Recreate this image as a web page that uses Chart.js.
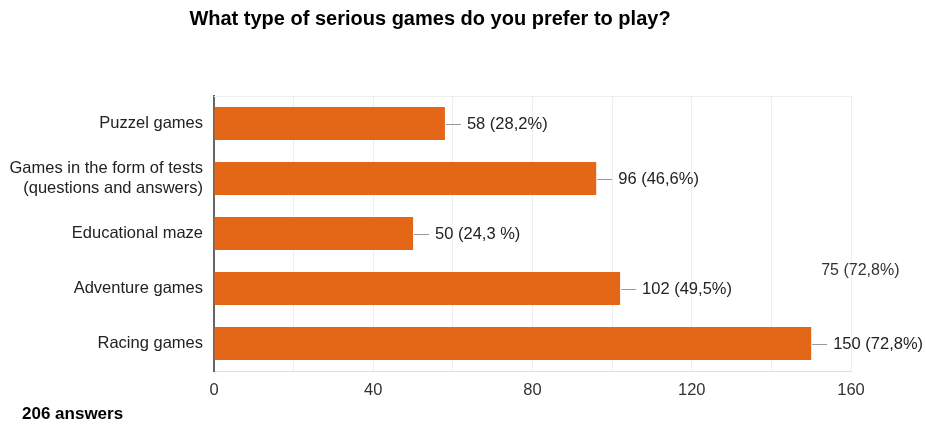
<!DOCTYPE html>
<html>
<head>
<meta charset="utf-8">
<script src="https://cdn.jsdelivr.net/npm/chart.js@4"></script>
<style>
  html, body { margin: 0; padding: 0; background: #fff; }
  #wrap { width: 926px; height: 427px; position: relative; }
</style>
</head>
<body>
<div id="wrap"><canvas id="chart" width="926" height="427"></canvas></div>
<script>
// chart data
const categories = [
  "Puzzel games",
  ["Games in the form of tests", "(questions and answers)"],
  "Educational maze",
  "Adventure games",
  "Racing games"
];
const answers = [58, 96, 50, 102, 150];
const valueLabels = ["58 (28,2%)", "96 (46,6%)", "50 (24,3 %)", "102 (49,5%)", "150 (72,8%)"];
const chartTitle = "What type of serious games do you prefer to play?";
const footerText = "206 answers";
const strayLabel = "75 (72,8%)";
const strayValue = 150; // x position (in axis units) of the leftover label near Adventure games
const tickStep = 20;
const labelStep = 40;

const FONT = "'Liberation Sans', Arial, sans-serif";

// draws the connector lines + value labels, title and footer
const annotate = {
  id: "annotate",
  afterDatasetsDraw(chart) {
    const ctx = chart.ctx;
    const meta = chart.getDatasetMeta(0);
    const xs = chart.scales.x;
    const area = chart.chartArea;
    ctx.save();

    // faint top frame line
    ctx.strokeStyle = "#eeeeee";
    ctx.lineWidth = 1;
    ctx.beginPath();
    ctx.moveTo(area.left, area.top + 0.5);
    ctx.lineTo(area.right, area.top + 0.5);
    ctx.stroke();

    ctx.font = "16.5px " + FONT;
    ctx.textBaseline = "middle";
    ctx.textAlign = "left";
    meta.data.forEach((bar, i) => {
      const x = bar.x;
      const y = bar.y;
      ctx.strokeStyle = "#999999";
      ctx.beginPath();
      ctx.moveTo(x + 1, Math.round(y) + 0.5);
      ctx.lineTo(x + 16, Math.round(y) + 0.5);
      ctx.stroke();
      ctx.fillStyle = "#222222";
      ctx.fillText(valueLabels[i], x + 22, y + 1);
    });

    // leftover label floating above the Adventure games row
    ctx.font = "16px " + FONT;
    ctx.fillStyle = "#333333";
    const adv = meta.data[3];
    ctx.fillText(strayLabel, xs.getPixelForValue(strayValue) + 10, adv.y - 18);

    // title
    ctx.font = "bold 20px " + FONT;
    ctx.fillStyle = "#000000";
    ctx.textAlign = "center";
    ctx.fillText(chartTitle, 430, 19);

    // footer
    ctx.font = "bold 17px " + FONT;
    ctx.textAlign = "left";
    ctx.fillText(footerText, 22, 414);
    ctx.restore();
  }
};

new Chart(document.getElementById("chart"), {
  type: "bar",
  data: {
    labels: categories,
    datasets: [{
      data: answers,
      backgroundColor: "#e46617",
      borderWidth: 0,
      barPercentage: 0.6,
      categoryPercentage: 1
    }]
  },
  options: {
    indexAxis: "y",
    responsive: false,
    animation: false,
    layout: { padding: { top: 96, right: 75, bottom: 26, left: 0 } },
    plugins: {
      legend: { display: false },
      tooltip: { enabled: false }
    },
    scales: {
      x: {
        min: 0,
        max: 160,
        afterFit: (s) => { s.height = 30; },
        grid: { color: "#eeeeee", lineWidth: 1, drawTicks: false },
        border: { color: "#dddddd" },
        ticks: {
          stepSize: tickStep,
          padding: 10,
          color: "#333333",
          font: { family: FONT, size: 16.5 },
          callback: (v) => (v % labelStep === 0 ? v : "")
        }
      },
      y: {
        afterFit: (s) => { s.width = 214; },
        grid: { display: false, drawTicks: false },
        border: { color: "#666666", width: 2 },
        ticks: {
          padding: 11,
          color: "#222222",
          font: { family: FONT, size: 16.5 }
        }
      }
    }
  },
  plugins: [annotate]
});
</script>
</body>
</html>
